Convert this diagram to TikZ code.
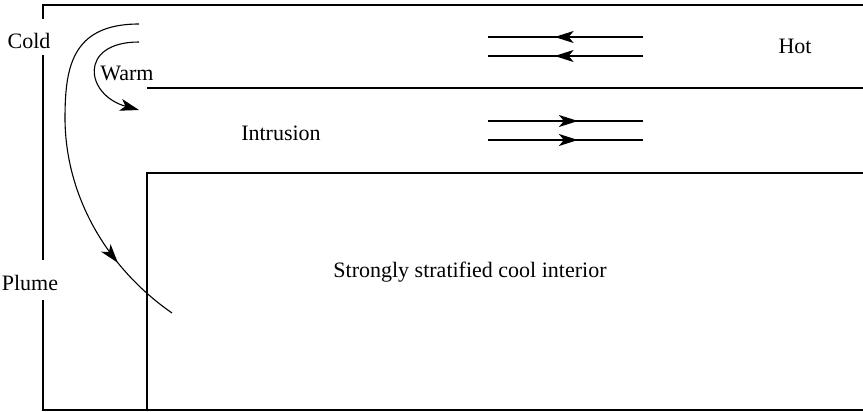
\documentclass[tikz,border=0pt]{standalone}
\usepackage{fontspec}
\setmainfont{Liberation Serif}
\usetikzlibrary{arrows.meta,decorations.markings}
\tikzset{
  wall/.style={line width=2.2pt},
  thin/.style={line width=1.1pt},
  lbl/.style={inner sep=0pt, font=\fontsize{22}{26}\selectfont},
  tip/.tip={Stealth[length=19pt,width=12pt,inset=5pt]},
  flowarrow/.style={thin, postaction={decorate}, decoration={markings, mark=at position #1 with {\arrow{tip}}}},
}
\begin{document}
\begin{tikzpicture}[x=1pt,y=-1pt]
\useasboundingbox (0,0) rectangle (863,412);
% outer walls
\draw[wall] (43,19) -- (43,5) -- (863,5);
\draw[wall] (43,55) -- (43,260);
\draw[wall] (43,300) -- (43,410) -- (863,410);
% intrusion boundaries
\draw[thin] (147,88) -- (863,88);
\draw[thin] (147,410) -- (147,173) -- (863,173);
% labels
\node[lbl] (cold) at (29,41) {Cold};
\node[lbl] (plume) at (30,283) {Plume};
\node[lbl] (warm) at (127,73) {Warm};
\node[lbl] (hot) at (795,46) {Hot};
\node[lbl] (intr) at (281,133) {Intrusion};
\node[lbl] (interior) at (470,272) {Strongly stratified cool interior};
% plume curve
\draw[flowarrow=0.8] (139,24) .. controls (70,24) and (65,70) .. (65,120)
  .. controls (66,200) and (110,270) .. (172,313);
% warm curve
\draw[thin,-{tip}] (139,42) .. controls (78,42) and (85,95) .. (139,110);
% hot arrows (leftward)
\coordinate (h1a) at (643,37); \coordinate (h1b) at (488,37);
\coordinate (h2a) at (643,56); \coordinate (h2b) at (488,56);
\draw[flowarrow=0.57] (h1a) -- (h1b);
\draw[flowarrow=0.57] (h2a) -- (h2b);
% intrusion arrows (rightward)
\coordinate (i1a) at (488,121); \coordinate (i1b) at (643,121);
\coordinate (i2a) at (488,140); \coordinate (i2b) at (643,140);
\draw[flowarrow=0.58] (i1a) -- (i1b);
\draw[flowarrow=0.58] (i2a) -- (i2b);
\end{tikzpicture}
\end{document}
